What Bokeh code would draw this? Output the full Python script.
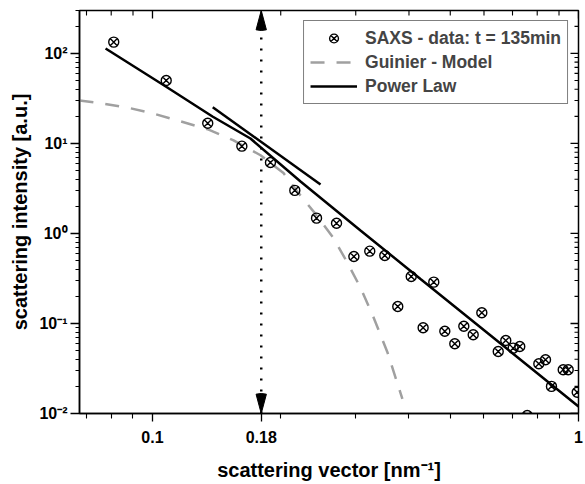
import math
from bokeh.plotting import figure
from bokeh.models import FixedTicker, Range1d, Legend, LegendItem
from bokeh.embed import file_html
from bokeh.resources import INLINE

# ---- data ----
q_data = [0.0811, 0.1077, 0.1348, 0.1621, 0.1892, 0.2158, 0.2427, 0.2704, 0.2970, 0.3236,
          0.3510, 0.3765, 0.4049, 0.4318, 0.4574, 0.4855, 0.5124, 0.5380, 0.5660, 0.5930,
          0.6480, 0.6750, 0.7024, 0.7280, 0.7580, 0.8070, 0.8367, 0.8641, 0.9207, 0.9458, 0.9930]
i_data = [133.6, 50.1, 16.8, 9.33, 6.15, 3.01, 1.48, 1.30, 0.555, 0.636,
          0.570, 0.1545, 0.333, 0.0895, 0.288, 0.0821, 0.0595, 0.0933, 0.0749, 0.1315,
          0.0489, 0.0647, 0.0532, 0.0555, 0.0095, 0.0357, 0.0395, 0.0200, 0.0306, 0.0306, 0.0172]

guinier_q = [0.0674, 0.0755, 0.0874, 0.1005, 0.1163, 0.1346, 0.1550, 0.1793, 0.2030, 0.2190,
             0.2413, 0.2660, 0.2870, 0.3078, 0.3300, 0.3560, 0.3860]
guinier_i = [30.0, 28.0, 25.0, 21.5, 17.6, 14.4, 10.8, 7.4, 4.7, 2.9,
             1.65, 0.89, 0.47, 0.25, 0.118, 0.048, 0.0145]

power_q = [0.0776, 0.1079, 0.1383, 0.1698, 0.2226, 0.3078, 0.4257, 0.6561, 1.0]
power_i = [113.6, 42.45, 19.95, 11.36, 3.782, 1.080, 0.3122, 0.0599, 0.01196]

tangent_q = [0.1385, 0.248]
tangent_i = [25.3, 3.50]

marker_q = 0.18

x_lim = [0.0674, 1.0]
y_lim = [0.01, 300.0]

x_major = [0.1, 0.18, 1.0]
x_major_labels = ["0.1", "0.18", "1"]
x_minor = [0.07, 0.08, 0.09, 0.2, 0.3, 0.4, 0.5, 0.6, 0.7, 0.8, 0.9]

y_major = [0.01, 0.1, 1.0, 10.0, 100.0]
y_major_labels = ["10\u207b\u00b2", "10\u207b\u00b9", "10\u2070", "10\u00b9", "10\u00b2"]
y_minor = [m * 10.0 ** k for k in range(-2, 3) for m in range(2, 10) if m * 10.0 ** k <= 300]

FONT = "Liberation Sans"

p = figure(width=585, height=484, x_axis_type="log", y_axis_type="log",
           x_range=Range1d(*x_lim), y_range=Range1d(*y_lim),
           output_backend="svg", toolbar_location=None,
           min_border_left=79, min_border_right=7, min_border_top=10, min_border_bottom=71)
p.grid.visible = False
p.outline_line_color = "black"
p.outline_line_width = 1.5

# bottom axis
xa = p.xaxis[0]
xa.ticker = FixedTicker(ticks=x_major, minor_ticks=x_minor)
xa.major_label_overrides = dict(zip(x_major, x_major_labels))
xa.major_tick_out = 8
xa.major_tick_in = 0
xa.minor_tick_out = 5
xa.minor_tick_in = 0
xa.major_label_standoff = 9
xa.axis_label = "scattering vector [nm\u207b\u00b9]"
xa.axis_label_standoff = 13

# left axis
ya = p.yaxis[0]
ya.ticker = FixedTicker(ticks=y_major, minor_ticks=y_minor)
ya.major_label_overrides = dict(zip(y_major, y_major_labels))
ya.major_tick_out = 9
ya.major_tick_in = 0
ya.minor_tick_out = 4
ya.minor_tick_in = 0
ya.major_label_standoff = 3
ya.axis_label = "scattering intensity [a.u.]"
ya.axis_label_standoff = 5

for ax in (xa, ya):
    ax.axis_line_width = 1.5
    ax.axis_line_color = "black"
    ax.major_tick_line_width = 1.3
    ax.minor_tick_line_width = 1.1
    ax.major_tick_line_color = "black"
    ax.minor_tick_line_color = "black"
    ax.major_label_text_font = FONT
    ax.major_label_text_font_style = "bold"
    ax.major_label_text_font_size = "16px"
    ax.major_label_text_color = "black"
    ax.axis_label_text_font = FONT
    ax.axis_label_text_font_style = "bold"
    ax.axis_label_text_font_size = "20px"
    ax.axis_label_text_color = "black"

# mirror ticks on top and right (inward), as dash markers centred on the frame edge
p.scatter(x_major, [y_lim[1]] * len(x_major), marker="dash", size=16, angle=math.pi / 2,
          line_color="black", line_width=1.3)
p.scatter(x_minor, [y_lim[1]] * len(x_minor), marker="dash", size=10, angle=math.pi / 2,
          line_color="black", line_width=1.1)
p.scatter([x_lim[1]] * len(y_major), y_major, marker="dash", size=16,
          line_color="black", line_width=1.3)
p.scatter([x_lim[1]] * len(y_minor), y_minor, marker="dash", size=8,
          line_color="black", line_width=1.1)

# curves
r_guinier = p.line(guinier_q, guinier_i, line_color="#a0a0a0", line_width=2.5, line_dash="14 12")
r_power = p.line(power_q, power_i, line_color="black", line_width=2.5)
p.line(tangent_q, tangent_i, line_color="black", line_width=2.5)

# vertical dotted marker with arrow heads
p.line([marker_q, marker_q], y_lim, line_color="black", line_width=2.5, line_dash="2 9")
p.wedge(x=[marker_q, marker_q], y=[y_lim[1], y_lim[0]], radius=20, radius_units="screen",
        start_angle=[-105, 75], end_angle=[-75, 105],
        start_angle_units="deg", end_angle_units="deg",
        fill_color="black", line_color="black")

# data
r_data = p.scatter(q_data, i_data, marker="circle_x", size=10, line_color="black",
                   fill_color=None, line_width=1.4)

legend = Legend(items=[
    LegendItem(label="SAXS - data: t = 135min", renderers=[r_data]),
    LegendItem(label="Guinier - Model", renderers=[r_guinier]),
    LegendItem(label="Power Law", renderers=[r_power]),
], location="top_right")
legend.border_line_color = "black"
legend.border_line_width = 1.5
legend.background_fill_alpha = 1
legend.label_text_font = FONT
legend.label_text_font_style = "bold"
legend.label_text_font_size = "17.5px"
legend.glyph_width = 47
legend.glyph_height = 22
legend.label_height = 22
legend.spacing = 2
legend.padding = 6
legend.margin = 10
legend.label_standoff = 8
p.add_layout(legend)

open("out.html", "w").write(file_html(p, INLINE))
